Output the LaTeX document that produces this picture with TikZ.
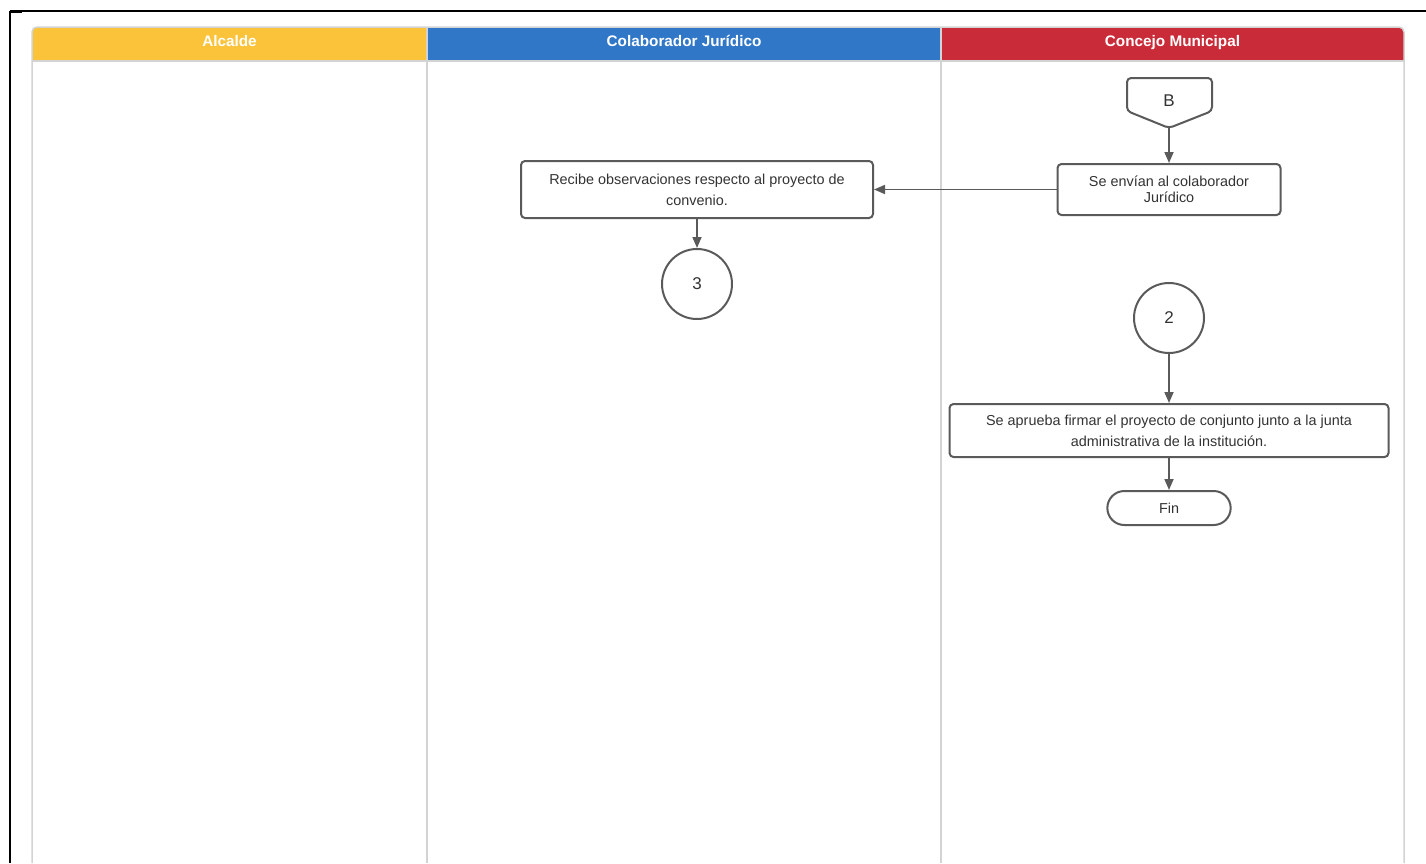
\documentclass[tikz,border=0pt]{standalone}
\usepackage{fontspec}
\setmainfont{Liberation Sans}
\usetikzlibrary{shapes.misc,arrows.meta}
\definecolor{hyellow}{HTML}{FBC33A}
\definecolor{hblue}{HTML}{3077C8}
\definecolor{hred}{HTML}{C92B38}
\definecolor{lanegrey}{HTML}{D3D3D3}
\definecolor{shapegrey}{HTML}{5A5A5A}
\definecolor{txtgrey}{HTML}{333333}
\tikzset{
  hdr/.style={font=\fontsize{15.3}{17}\selectfont\bfseries, text=white, text height=11pt, text depth=3pt},
  procbox/.style={draw=shapegrey, line width=2pt, rounded corners=4pt, fill=white,
    align=center, text=txtgrey, font=\fontsize{14.4}{21}\selectfont, inner sep=0pt},
  conncirc/.style={draw=shapegrey, line width=2pt, circle, minimum size=70pt,
    text=txtgrey, font=\fontsize{17}{18}\selectfont, inner sep=0pt},
  termnode/.style={draw=shapegrey, line width=2pt, rounded rectangle, fill=white,
    minimum width=130pt, minimum height=34pt, text=txtgrey, font=\fontsize{14.4}{16}\selectfont},
  flow/.style={draw=shapegrey, line width=1.7pt, -{Triangle[length=11pt,width=9pt]}}
}
\begin{document}
\begin{tikzpicture}[x=1pt,y=-1pt]
\useasboundingbox (0,0) rectangle (1426,863);
% outer frame
\draw[black, line width=1.5pt] (10,11) -- (1426,11);
\draw[black, line width=1.5pt] (10,11) -- (10,863);
\draw[black, line width=3pt] (10,11) -- (22,11);
% lane headers
\fill[hyellow, rounded corners=5pt] (32,27) rectangle (427,61);
\fill[hyellow] (32,40) rectangle (427,61);
\fill[hyellow] (45,27) rectangle (427,61);
\fill[hblue] (427,27) rectangle (941,61);
\fill[hred, rounded corners=5pt] (941,27) rectangle (1404,61);
\fill[hred] (941,40) rectangle (1404,61);
\fill[hred] (941,27) rectangle (1390,61);
% lane borders
\draw[lanegrey, line width=1.5pt, rounded corners=5pt] (32,863) -- (32,27) -- (1404,27) -- (1404,863);
\draw[lanegrey, line width=1.5pt] (32,61) -- (1404,61);
\draw[lanegrey, line width=1.5pt] (427,27) -- (427,863);
\draw[lanegrey, line width=1.5pt] (941,27) -- (941,863);
\node[hdr] (hA) at (229.5,42) {Alcalde};
\node[hdr] (hC) at (684,42) {Colaborador Jurídico};
\node[hdr] (hM) at (1172.5,42) {Concejo Municipal};
% off-page connector B
\draw[shapegrey, line width=2pt, fill=white, rounded corners=4pt]
  (1127,78) -- (1212,78) -- (1212,111) -- (1169,128) -- (1127,111) -- cycle;
\node[text=txtgrey, font=\fontsize{17}{18}\selectfont] (B) at (1169,101) {B};
\coordinate (Btip) at (1169,128);
% boxes
\node[procbox, minimum width=223pt, minimum height=51pt, font=\fontsize{14.4}{16}\selectfont] (envian) at (1169,189.5)
  {Se envían al colaborador\\Jurídico};
\node[procbox, minimum width=352pt, minimum height=57pt] (recibe) at (697,189.5)
  {Recibe observaciones respecto al proyecto de\\convenio.};
\node[conncirc] (c3) at (697,284) {3};
\node[conncirc] (c2) at (1169,318) {2};
\node[procbox, minimum width=439pt, minimum height=53pt] (aprueba) at (1169,430.5)
  {Se aprueba firmar el proyecto de conjunto junto a la junta\\administrativa de la institución.};
\node[termnode] (fin) at (1169,508) {Fin};
% connectors
\draw[flow] (Btip) -- (envian.north);
\draw[flow] (envian.west) -- (recibe.east);
\draw[flow] (recibe.south) -- (c3.north);
\draw[flow] (c2.south) -- (aprueba.north);
\draw[flow] (aprueba.south) -- (fin.north);
\end{tikzpicture}
\end{document}
